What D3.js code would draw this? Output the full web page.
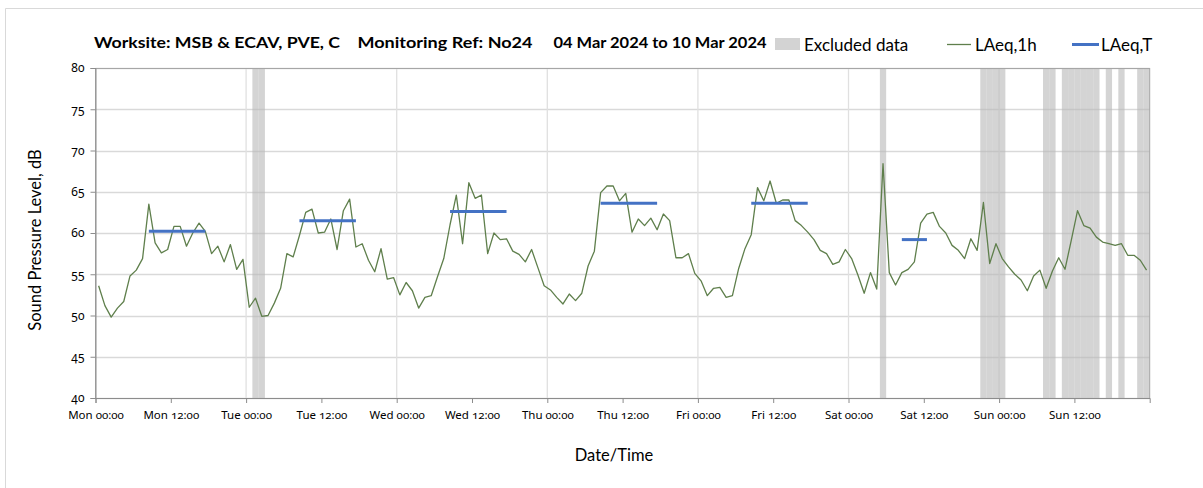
<!DOCTYPE html>
<html>
<head>
<meta charset="utf-8">
<script src="https://cdn.jsdelivr.net/npm/d3@7"></script>
<style>
  html, body { margin: 0; padding: 0; background: #fff; }
  svg { display: block; }
  text { font-family: "Lato", "Noto Sans", sans-serif; fill: #000; }
  .num text { font-family: "Noto Sans", sans-serif; font-feature-settings: "onum" 1; font-variant-numeric: oldstyle-nums; }
</style>
</head>
<body>
<svg id="chart" width="1203" height="488"></svg>
<script>
// ---------------- DATA ----------------
const titleParts = ["Worksite: MSB & ECAV, PVE, C", "Monitoring Ref: No24", "04 Mar 2024 to 10 Mar 2024"];
const startTime = "2024-03-04T00:00:00";
const endTime = "2024-03-11T00:00:00";
// LAeq,1h hourly values, Mon 04 Mar 00:00 .. Sun 10 Mar 23:00
const laeq1h = [
  53.6, 51.2, 49.8, 50.9, 51.7, 54.8, 55.5, 56.9, 63.5, 58.8, 57.6, 58.0,
  60.8, 60.8, 58.4, 60.0, 61.2, 60.2, 57.5, 58.4, 56.5, 58.6, 55.6, 56.8,
  51.0, 52.1, 49.9, 50.0, 51.5, 53.3, 57.5, 57.1, 59.7, 62.5, 62.9, 60.0,
  60.1, 61.7, 58.0, 62.7, 64.1, 58.3, 58.7, 56.7, 55.3, 58.1, 54.4, 54.6,
  52.5, 54.0, 53.0, 50.9, 52.2, 52.4, 54.7, 56.9, 61.0, 64.6, 58.7, 66.1,
  64.2, 64.6, 57.5, 60.0, 59.2, 59.3, 57.8, 57.4, 56.5, 58.0, 55.8, 53.6,
  53.1, 52.2, 51.4, 52.6, 51.8, 52.7, 56.0, 57.8, 64.9, 65.7, 65.7, 63.9,
  64.8, 60.1, 61.7, 60.9, 61.8, 60.4, 62.3, 61.5, 57.0, 57.0, 57.5, 55.1,
  54.2, 52.4, 53.3, 53.4, 52.2, 52.4, 55.7, 58.1, 59.8, 65.5, 63.9, 66.3,
  63.6, 64.0, 64.0, 61.5, 60.9, 60.1, 59.2, 57.9, 57.5, 56.2, 56.5, 58.0,
  56.9, 54.9, 52.7, 55.2, 53.2, 68.4, 55.2, 53.7, 55.2, 55.6, 56.5, 61.2,
  62.3, 62.5, 60.8, 60.0, 58.5, 57.9, 56.9, 59.3, 57.9, 63.7, 56.3, 58.7,
  56.9, 55.9, 55.0, 54.3, 53.0, 54.8, 55.5, 53.3, 55.4, 57.0, 55.6, 59.1,
  62.7, 60.9, 60.6, 59.5, 58.9, 58.7, 58.5, 58.7, 57.3, 57.3, 56.7, 55.5
];
// LAeq,T daytime periods (hour index from Mon 00:00, first and last hour)
const laeqTStartHour = [8, 32, 56, 80, 104, 128];
const laeqTEndHour   = [17, 41, 65, 89, 113, 132];
const laeqTValues    = [60.2, 61.5, 62.6, 63.6, 63.6, 59.2];
// Excluded hours (hour index from Mon 00:00)
const excludedHours = [25, 26, 125, 141, 142, 143, 144, 151, 152, 154, 155, 156, 157, 158, 159, 161, 163, 166, 167];
const yTicks = [40, 45, 50, 55, 60, 65, 70, 75, 80];
const legendLabels = ["Excluded data", "LAeq,1h", "LAeq,T"];
const yAxisTitle = "Sound Pressure Level, dB";
const xAxisTitle = "Date/Time";

// ---------------- CHART ----------------
const svg = d3.select("#chart");
const HOUR = 3600 * 1000;
const t0 = new Date(startTime), t1 = new Date(endTime);
const hourTime = (h) => new Date(t0.getTime() + h * HOUR);

const plot = { left: 95.5, right: 1149.7, top: 68, bottom: 398 };
const x = d3.scaleTime().domain([t0, t1]).range([plot.left, plot.right]);
const y = d3.scaleLinear().domain([40, 80]).range([plot.bottom, plot.top]);

// outer chart border (partially visible)
svg.append("path").attr("d", "M5.5,488 V8.5 H1203").attr("fill", "none").attr("stroke", "#d9d9d9").attr("stroke-width", 1);

// horizontal gridlines
svg.append("g").selectAll("line").data(yTicks).join("line")
  .attr("x1", plot.left).attr("x2", plot.right)
  .attr("y1", d => Math.round(y(d)) + 0.5).attr("y2", d => Math.round(y(d)) + 0.5)
  .attr("stroke", "#d9d9d9").attr("stroke-width", 1.3);

// vertical gridlines at day boundaries
const dayTicks = d3.timeDay.range(t0, t1).slice(1);
svg.append("g").selectAll("line").data(dayTicks).join("line")
  .attr("x1", d => x(d)).attr("x2", d => x(d))
  .attr("y1", plot.top).attr("y2", plot.bottom)
  .attr("stroke", "#e0e0e0").attr("stroke-width", 1.3);

// excluded data bands
svg.append("g").selectAll("rect").data(excludedHours).join("rect")
  .attr("x", d => x(hourTime(d)))
  .attr("width", d => x(hourTime(d + 1)) - x(hourTime(d)))
  .attr("y", plot.top).attr("height", plot.bottom - plot.top)
  .attr("fill", "#b8b8b8").attr("fill-opacity", 0.6);

// plot border
svg.append("rect").attr("x", plot.left).attr("y", plot.top + 0.5)
  .attr("width", plot.right - plot.left).attr("height", plot.bottom - plot.top)
  .attr("fill", "none").attr("stroke", "#a6a6a6").attr("stroke-width", 1);

// axes
const xTicks = d3.timeHour.every(12).range(t0, new Date(t1.getTime() - 1));
const xAxis = d3.axisBottom(x).tickValues(xTicks).tickSize(5).tickFormat(d3.timeFormat("%a %H:%M"));
const gx = svg.append("g").attr("class", "num").attr("transform", `translate(0,${plot.bottom})`).call(xAxis);
gx.select(".domain").attr("stroke", "#8c8c8c");
gx.selectAll(".tick line").attr("stroke", "#8c8c8c");
gx.selectAll(".tick text").attr("font-size", 11.5).attr("dy", 0).attr("y", 21).attr("fill", "#333");

const yAxis = d3.axisLeft(y).tickValues(yTicks).tickSize(5).tickPadding(6);
const gy = svg.append("g").attr("class", "num").attr("transform", `translate(${plot.left},0)`).call(yAxis);
gy.select(".domain").attr("stroke", "#8c8c8c");
gy.selectAll(".tick line").attr("stroke", "#8c8c8c");
gy.selectAll(".tick text").attr("font-size", 12).attr("fill", "#333");

// LAeq,1h line
const line = d3.line().x((d, i) => x(hourTime(i + 0.5))).y(d => y(d));
svg.append("path").datum(laeq1h).attr("d", line)
  .attr("fill", "none").attr("stroke", "#5f7f4c").attr("stroke-width", 1.3).attr("stroke-linejoin", "round");

// LAeq,T segments
svg.append("g").selectAll("line").data(laeqTValues).join("line")
  .attr("x1", (d, i) => x(hourTime(laeqTStartHour[i] + 0.5)))
  .attr("x2", (d, i) => x(hourTime(laeqTEndHour[i] + 0.5)))
  .attr("y1", d => y(d)).attr("y2", d => y(d))
  .attr("stroke", "#4472c4").attr("stroke-width", 3);

// title
const titleX = [94, 357.5, 553.5];
const titleW = [246, 175, 213];
svg.append("g").selectAll("text").data(titleParts).join("text")
  .attr("x", (d, i) => titleX[i]).attr("y", 48)
  .attr("font-size", 15).attr("font-weight", "bold")
  .attr("textLength", (d, i) => titleW[i]).attr("lengthAdjust", "spacingAndGlyphs")
  .text(d => d);

// legend
const lg = svg.append("g");
lg.append("rect").attr("x", 775).attr("y", 38).attr("width", 25).attr("height", 12).attr("fill", "#d3d3d3");
lg.append("text").attr("x", 804).attr("y", 50.5).attr("font-size", 17).text(legendLabels[0]);
lg.append("line").attr("x1", 947).attr("x2", 971).attr("y1", 44.5).attr("y2", 44.5).attr("stroke", "#5f7f4c").attr("stroke-width", 1.3);
lg.append("text").attr("x", 975).attr("y", 50.5).attr("font-size", 17).text(legendLabels[1]);
lg.append("line").attr("x1", 1072).attr("x2", 1099).attr("y1", 44.5).attr("y2", 44.5).attr("stroke", "#4472c4").attr("stroke-width", 3);
lg.append("text").attr("x", 1101).attr("y", 50.5).attr("font-size", 17).text(legendLabels[2]);

// axis titles
svg.append("text").attr("transform", `translate(41,${(plot.top + plot.bottom) / 2 + 7}) rotate(-90)`)
  .attr("text-anchor", "middle").attr("font-size", 16.5).attr("fill", "#222").text(yAxisTitle);
svg.append("text").attr("x", 614).attr("y", 461).attr("text-anchor", "middle")
  .attr("font-size", 16.5).attr("fill", "#222").text(xAxisTitle);
</script>
</body>
</html>
